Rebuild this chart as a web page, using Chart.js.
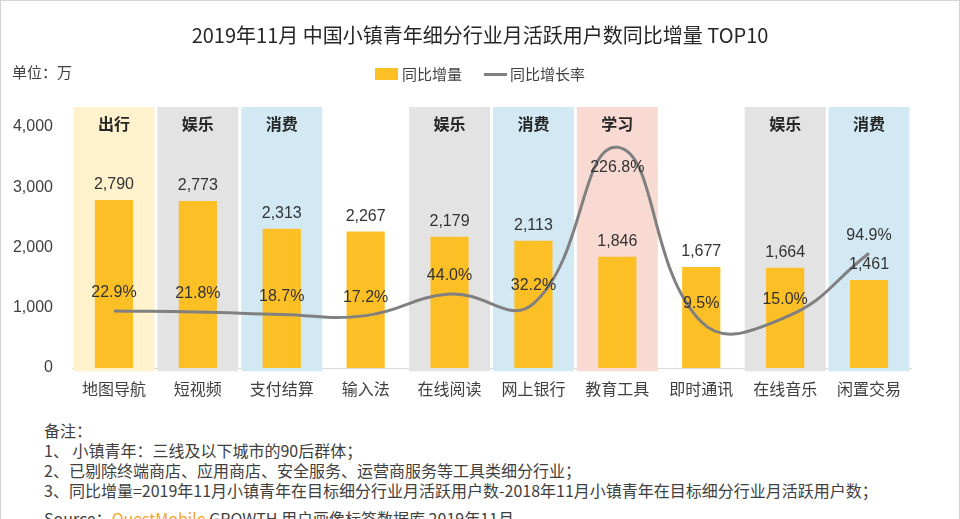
<!DOCTYPE html>
<html lang="zh-CN">
<head>
<meta charset="UTF-8" />
<title>2019年11月 中国小镇青年细分行业月活跃用户数同比增量 TOP10</title>
<style>
  body { margin: 0; background: #fff; }
  #page { position: relative; width: 960px; height: 519px; overflow: hidden;
          font-family: "Noto Sans CJK SC", sans-serif; color: #404040; }
  #frame { position: absolute; left: 0; top: 0; width: 958px; height: 530px;
           border: 1px solid #d4d4d4; pointer-events: none; }
  #chart { position: absolute; left: 0; top: 0; }
  #title { position: absolute; top: 22px; width: 100%; text-align: center;
           font-size: 20px; line-height: 26px; color: #262626; }
  #unit { position: absolute; left: 12px; top: 62px; font-size: 15px; line-height: 20px; }
  .lg { position: absolute; font-size: 15px; line-height: 20px; top: 64px; }
  #notes { position: absolute; left: 44px; top: 420px; font-size: 16px; line-height: 20px; }
  #notes .src { margin-top: 8px; }
  #notes .qm { color: #f5a623; }
</style>
</head>
<body>
<div id="page">
  <canvas id="chart" width="960" height="410"></canvas>
  <div id="title">2019年11月 中国小镇青年细分行业月活跃用户数同比增量 TOP10</div>
  <div id="unit">单位：万</div>
  <div class="lg" style="left:375px;top:68px;width:23px;height:12px;background:#fdbf26"></div>
  <div class="lg" style="left:402px">同比增量</div>
  <div class="lg" style="left:484px;top:73px;width:23px;height:3px;background:#808080"></div>
  <div class="lg" style="left:510px">同比增长率</div>
  <div id="notes">
    <div>备注：</div>
    <div>1、 小镇青年：三线及以下城市的90后群体；</div>
    <div>2、已剔除终端商店、应用商店、安全服务、运营商服务等工具类细分行业；</div>
    <div>3、同比增量=2019年11月小镇青年在目标细分行业月活跃用户数-2018年11月小镇青年在目标细分行业月活跃用户数；</div>
    <div class="src">Source：<span class="qm">QuestMobile</span> GROWTH 用户画像标签数据库 2019年11月</div>
  </div>
  <div id="frame"></div>
</div>
<script src="https://cdn.jsdelivr.net/npm/chart.js"></script>
<script>
  // 数据
  const categories = ["地图导航", "短视频", "支付结算", "输入法", "在线阅读",
                      "网上银行", "教育工具", "即时通讯", "在线音乐", "闲置交易"];
  const increase = [2790, 2773, 2313, 2267, 2179, 2113, 1846, 1677, 1664, 1461];
  const growthRate = [22.9, 21.8, 18.7, 17.2, 44.0, 32.2, 226.8, 9.5, 15.0, 94.9];
  const groups = ["出行", "娱乐", "消费", "", "娱乐", "消费", "学习", "", "娱乐", "消费"];
  const yTicks = [0, 1000, 2000, 3000, 4000];

  const groupColors = { "出行": "#fff2cc", "娱乐": "#e3e3e3", "消费": "#d2e9f4", "学习": "#f9dad2" };
  const numFont = '16px "Liberation Sans", Arial, sans-serif';

  const labelPlugin = {
    id: "labels",
    afterDatasetsDraw(chart) {
      const ctx = chart.ctx;
      ctx.save();
      ctx.textAlign = "center";
      ctx.textBaseline = "middle";
      // 分组标签
      ctx.fillStyle = "#262626";
      ctx.font = 'bold 16px "Noto Sans CJK SC", sans-serif';
      chart.getDatasetMeta(0).data.forEach((el, i) => {
        if (groups[i]) ctx.fillText(groups[i], el.x, el.y + 17);
      });
      // 柱子数值
      ctx.fillStyle = "#333";
      ctx.font = numFont;
      chart.getDatasetMeta(1).data.forEach((el, i) => {
        ctx.fillText(increase[i].toLocaleString("en-US"), el.x, el.y - 15);
      });
      // 增长率
      const maxRate = Math.max(...growthRate);
      chart.getDatasetMeta(2).data.forEach((el, i) => {
        const dy = growthRate[i] === maxRate ? 20 : -18;
        ctx.fillText(growthRate[i].toFixed(1) + "%", el.x, el.y + dy);
      });
      ctx.restore();
    }
  };

  new Chart(document.getElementById("chart"), {
    data: {
      labels: categories,
      datasets: [
        {
          type: "bar",
          data: groups.map((g) => (g ? [-55, 4330] : null)),
          backgroundColor: groups.map((g) => groupColors[g] || "transparent"),
          grouped: false,
          barPercentage: 0.965,
          categoryPercentage: 1,
          clip: false,
          order: 3
        },
        {
          type: "bar",
          label: "同比增量",
          data: increase,
          backgroundColor: "#fdbf26",
          grouped: false,
          barPercentage: 0.455,
          categoryPercentage: 1,
          order: 2
        },
        {
          type: "line",
          label: "同比增长率",
          data: growthRate,
          yAxisID: "y2",
          borderColor: "#808080",
          borderWidth: 3,
          tension: 0.45,
          pointRadius: 0,
          order: 1
        }
      ]
    },
    options: {
      responsive: false,
      animation: false,
      layout: { padding: { top: 127, right: 49, left: 0, bottom: 0 } },
      plugins: { legend: { display: false }, tooltip: { enabled: false } },
      scales: {
        x: {
          z: 1,
          grid: { display: false, drawTicks: false },
          border: { display: true, color: "#d9d9d9", width: 1 },
          ticks: { padding: 11, color: "#404040",
                   font: { family: '"Noto Sans CJK SC", sans-serif', size: 16 } },
          afterFit: (s) => { s.height = 42; }
        },
        y: {
          min: 0,
          max: 4000,
          grid: { display: false, drawTicks: false },
          border: { display: false },
          afterBuildTicks: (s) => { s.ticks = yTicks.map((v) => ({ value: v })); },
          ticks: { padding: 19, color: "#404040",
                   font: { family: '"Liberation Sans", Arial, sans-serif', size: 16 },
                   callback: (v) => v.toLocaleString("en-US") },
          afterFit: (s) => { s.width = 72; }
        },
        y2: { display: false, min: -48, max: 252 }
      }
    },
    plugins: [labelPlugin]
  });
</script>
</body>
</html>
